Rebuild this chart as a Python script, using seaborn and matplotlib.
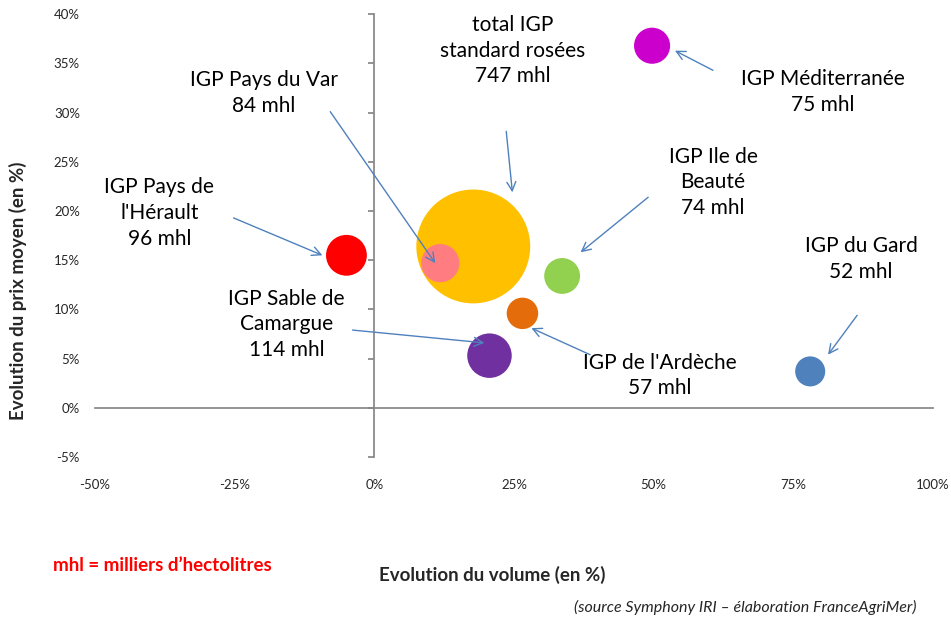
#evolution prix / volume des IGP rosées

import matplotlib.pyplot as plt
import seaborn as sns
import pandas as pd
from matplotlib.ticker import PercentFormatter

#data
igp = ['IGP Pays de\nl\'Hérault', 'total IGP\nstandard rosées', 'IGP Pays du Var',
       'IGP Ile de\nBeauté', 'IGP de l\'Ardèche', 'IGP Sable de\nCamargue',
       'IGP Méditerranée', 'IGP du Gard']
volume = [-5.0, 17.7, 11.8, 33.6, 26.5, 20.6, 49.7, 78.0]
prix = [15.5, 16.4, 14.7, 13.4, 9.6, 5.3, 36.8, 3.7]
mhl = [96, 747, 84, 74, 57, 114, 75, 52]
couleurs = ['#FF0000', '#FFC000', '#FF7C80', '#92D050', '#E46C0A', '#7030A0', '#CC00CC', '#4F81BD']

#posisi label dan panah (layout)
label_pos = [(-38.5, 19.8), (24.7, 36.3), (-19.8, 32.0), (60.6, 22.9), (51.0, 3.3),
             (-15.7, 8.5), (80.3, 32.1), (87.1, 15.1)]
panah_dari = [(-25.2, 19.3), (23.6, 28.1), (-7.9, 30.1), (49.0, 21.4), (38.6, 5.4),
              (-3.9, 7.9), (60.6, 34.3), (86.4, 9.4)]
panah_ke = [(-9.3, 15.5), (24.7, 21.9), (10.9, 14.7), (36.9, 15.8), (28.1, 8.1),
            (19.7, 6.6), (53.8, 36.3), (81.2, 5.4)]

df = pd.DataFrame({'igp': igp, 'volume': volume, 'prix': prix, 'mhl': mhl})

sns.set_theme(style='white')
plt.rcParams['font.family'] = ['Lato', 'DejaVu Sans']
plt.rcParams['axes.unicode_minus'] = False

fig = plt.figure(figsize=(9.51, 6.19), dpi=100)
ax = fig.add_axes([0.0999, 0.2617, 0.8813, 0.7153])

k = 9.0
sns.scatterplot(data=df, x='volume', y='prix', hue='igp', size='mhl',
                palette=dict(zip(igp, couleurs)), sizes=(min(mhl) * k, max(mhl) * k),
                size_norm=(min(mhl), max(mhl)), linewidth=0, alpha=1,
                legend=False, ax=ax, zorder=3)

#label + panah
for nama, n, pos, a, b in zip(igp, mhl, label_pos, panah_dari, panah_ke):
    ax.text(pos[0], pos[1], f'{nama}\n{n} mhl', ha='center', va='center',
            fontsize=15, linespacing=1.35, color='black')
    ax.annotate('', xy=b, xytext=a,
                arrowprops=dict(arrowstyle='->', color='#4F81BD', lw=1,
                                mutation_scale=16, shrinkA=0, shrinkB=0), zorder=4)

ax.set_xlim(-50, 100)
ax.set_ylim(-5, 40)
ax.set_xticks(range(-50, 101, 25))
ax.set_yticks(range(-5, 41, 5))
ax.xaxis.set_major_formatter(PercentFormatter(decimals=0))
ax.yaxis.set_major_formatter(PercentFormatter(decimals=0))

for s in ['top', 'right']:
    ax.spines[s].set_visible(False)
ax.spines['left'].set_position(('data', 0))
ax.spines['bottom'].set_position(('data', 0))
ax.spines['left'].set_color('#868686')
ax.spines['bottom'].set_color('#868686')
ax.tick_params(axis='y', left=True, length=4, color='#868686', pad=208, labelsize=9.5)
ax.tick_params(axis='x', bottom=False, pad=45, labelsize=9.5)
ax.set_xlabel('')
ax.set_ylabel('')

fig.text(0.019, 0.531, 'Evolution du prix moyen (en %)', rotation=90, ha='center',
         va='center', fontsize=13.5, fontweight='bold')
fig.text(0.518, 0.071, 'Evolution du volume (en %)', ha='center', va='center',
         fontsize=13.5, fontweight='bold')
fig.text(0.056, 0.087, 'mhl = milliers d\u2019hectolitres', ha='left', va='center',
         fontsize=13.5, fontweight='bold', color='red')
fig.text(0.964, 0.019, '(source Symphony IRI \u2013 élaboration FranceAgriMer)', ha='right',
         va='center', fontsize=11.5, style='italic')

fig.savefig('out.png', dpi=100)
